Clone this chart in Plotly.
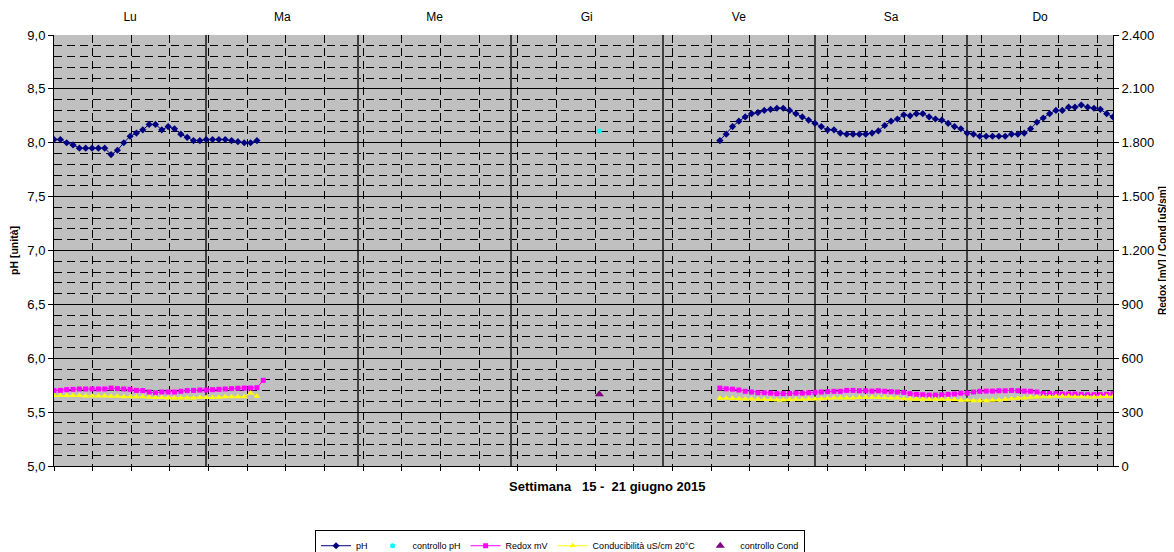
import plotly.graph_objects as go

# ---------------- data ----------------
days = ["Lu", "Ma", "Me", "Gi", "Ve", "Sa", "Do"]
day_centers = [12, 36, 60, 84, 108, 132, 155.5]
day_edges = [24, 48, 72, 96, 120, 144]

# hour index within the week (first sample = Monday 00:00)
hours_a = list(range(0, 33))          # Lu - Ma
hours_a_redox = list(range(0, 34))
hours_b = list(range(105, 168))       # Ve - Do

ph_a = [8.03, 8.03, 8.00, 7.98, 7.95, 7.95, 7.95, 7.95, 7.95, 7.89,
        7.93, 8.00, 8.06, 8.09, 8.12, 8.17, 8.17, 8.12, 8.15, 8.13,
        8.08, 8.05, 8.02, 8.02, 8.03, 8.03, 8.03, 8.03, 8.02, 8.01,
        8.00, 8.00, 8.02]
ph_b = [8.02, 8.08, 8.15, 8.20, 8.24, 8.27, 8.28, 8.30, 8.31, 8.32,
        8.32, 8.30, 8.27, 8.24, 8.21, 8.18, 8.15, 8.12, 8.12, 8.09,
        8.08, 8.08, 8.08, 8.08, 8.09, 8.11, 8.16, 8.20, 8.22, 8.26,
        8.25, 8.27, 8.27, 8.24, 8.22, 8.21, 8.18, 8.15, 8.13, 8.09,
        8.08, 8.06, 8.06, 8.06, 8.06, 8.06, 8.08, 8.08, 8.09, 8.13,
        8.19, 8.23, 8.27, 8.30, 8.30, 8.33, 8.33, 8.35, 8.33, 8.32,
        8.31, 8.27, 8.24]

redox_a = [420, 421, 425, 427, 429, 429, 429, 429, 429, 434,
           431, 429, 427, 421, 420, 412, 408, 412, 412, 412,
           416, 420, 421, 423, 423, 425, 427, 429, 431, 433,
           434, 434, 436, 477]
redox_b = [434, 430, 428, 423, 416, 412, 408, 408, 406, 403,
           403, 404, 406, 406, 408, 410, 412, 414, 416, 416,
           421, 421, 419, 419, 417, 419, 416, 414, 412, 410,
           403, 399, 397, 395, 395, 397, 399, 401, 406, 406,
           412, 416, 417, 417, 419, 419, 421, 419, 417, 416,
           412, 404, 403, 403, 401, 401, 401, 399, 397, 397,
           397, 399, 403]

cond_a = [392, 392, 392, 392, 392, 390, 390, 390, 390, 388,
          388, 386, 386, 385, 385, 383, 381, 381, 379, 379,
          379, 379, 379, 381, 381, 381, 383, 385, 385, 386,
          386, 407, 388]
cond_b = [377, 377, 377, 375, 373, 373, 371, 371, 370, 368,
          368, 370, 371, 371, 373, 373, 375, 377, 379, 379,
          379, 379, 381, 383, 383, 381, 381, 379, 379, 375,
          373, 371, 371, 371, 371, 371, 371, 370, 366, 366,
          364, 364, 364, 366, 368, 371, 375, 377, 379, 383,
          384, 386, 386, 388, 388, 388, 386, 386, 384, 384,
          386, 388, 386]

ctrl_ph_x = [86]
ctrl_ph_y = [8.11]
ctrl_cond_x = [86]
ctrl_cond_y = [400]

x_title = "Settimana&nbsp;&nbsp; 15 -&nbsp; 21 giugno 2015"

# ---------------- figure ----------------
FONT = "Liberation Sans, Arial, sans-serif"
fig = go.Figure()

fig.add_trace(go.Scatter(
    x=hours_a + [None] + hours_b, y=ph_a + [None] + ph_b,
    name="pH", mode="lines+markers", connectgaps=False,
    line=dict(color="#000080", width=1),
    marker=dict(symbol="diamond", size=5.5, color="#000080")))
fig.add_trace(go.Scatter(
    x=ctrl_ph_x, y=ctrl_ph_y, name="controllo pH", mode="markers",
    marker=dict(symbol="circle", size=5, color="#00FFFF")))
fig.add_trace(go.Scatter(
    x=hours_a_redox + [None] + hours_b, y=redox_a + [None] + redox_b,
    name="Redox mV", mode="lines+markers", yaxis="y2", connectgaps=False,
    line=dict(color="#FF00FF", width=1),
    marker=dict(symbol="square", size=5, color="#FF00FF")))
fig.add_trace(go.Scatter(
    x=hours_a + [None] + hours_b, y=cond_a + [None] + cond_b,
    name="Conducibilità uS/cm 20°C", mode="lines+markers", yaxis="y2",
    connectgaps=False,
    line=dict(color="#FFFF00", width=1),
    marker=dict(symbol="triangle-up", size=6, color="#FFFF00")))
fig.add_trace(go.Scatter(
    x=ctrl_cond_x, y=ctrl_cond_y, name="controllo Cond", mode="markers",
    yaxis="y2",
    marker=dict(symbol="triangle-up", size=8, color="#800080")))

# invisible trace to activate the top axis
fig.add_trace(go.Scatter(x=[0, 167], y=[None, None], xaxis="x2",
                         showlegend=False, hoverinfo="skip"))

# the page has an 8px body margin: figure placed at (8, 8)
fig.update_layout(
    width=1166, height=544,
    margin=dict(l=46, r=61, t=26.5, b=85.5, autoexpand=False),
    paper_bgcolor="white", plot_bgcolor="#C0C0C0",
    separators=",.",
    font=dict(family=FONT, size=13, color="black"),
    showlegend=True,
    legend=dict(orientation="h", x=0.2465, xanchor="left",
                y=-0.149, yanchor="top",
                bordercolor="black", borderwidth=1, bgcolor="white",
                font=dict(size=9, family=FONT), itemwidth=30),
    xaxis=dict(range=[0, 167], showticklabels=False,
               tick0=0, dtick=6.095, ticks="outside", ticklen=4,
               tickcolor="black",
               showgrid=True, gridcolor="black", gridwidth=1,
               griddash="8px,5px",
               showline=True, linecolor="black", linewidth=1,
               zeroline=False),
    xaxis2=dict(range=[0, 167], overlaying="x", side="top",
                tickmode="array", tickvals=day_centers, ticktext=days,
                ticks="outside", ticklen=8, tickcolor="rgba(0,0,0,0)",
                showgrid=False, zeroline=False, showline=False,
                tickfont=dict(size=12, family=FONT),
                minor=dict(tickmode="array", tickvals=day_edges,
                           showgrid=True, gridcolor="#404040", gridwidth=2,
                           ticks="")),
    yaxis=dict(range=[5, 9], dtick=0.5, tick0=5, tickformat=".1f",
               ticks="outside", ticklen=5, tickcolor="black",
               showgrid=True, gridcolor="black", gridwidth=1,
               showline=True, linecolor="black", linewidth=1,
               zeroline=False,
               tickfont=dict(size=13, family=FONT),
               minor=dict(dtick=0.1, showgrid=True, gridcolor="black",
                          gridwidth=1, griddash="8px,5px", ticks=""),
               title=dict(text="<b>pH [unità]</b>",
                          font=dict(size=10.5, family=FONT), standoff=9)),
    yaxis2=dict(range=[0, 2400], dtick=300, tick0=0, overlaying="y",
                side="right", separatethousands=True,
                ticks="outside", ticklen=5, tickcolor="black",
                showgrid=False, zeroline=False,
                showline=True, linecolor="black", linewidth=1,
                tickfont=dict(size=13, family=FONT),
                title=dict(text="<b>Redox [mV] / Cond [uS/sm]</b>",
                           font=dict(size=10, family=FONT), standoff=5)),
    annotations=[dict(text="<b>" + x_title + "</b>", xref="paper", yref="paper",
                      x=0.523, y=-0.0475, xanchor="center", yanchor="middle",
                      showarrow=False, font=dict(size=13, family=FONT))],
)

fig.write_html("out.html")
